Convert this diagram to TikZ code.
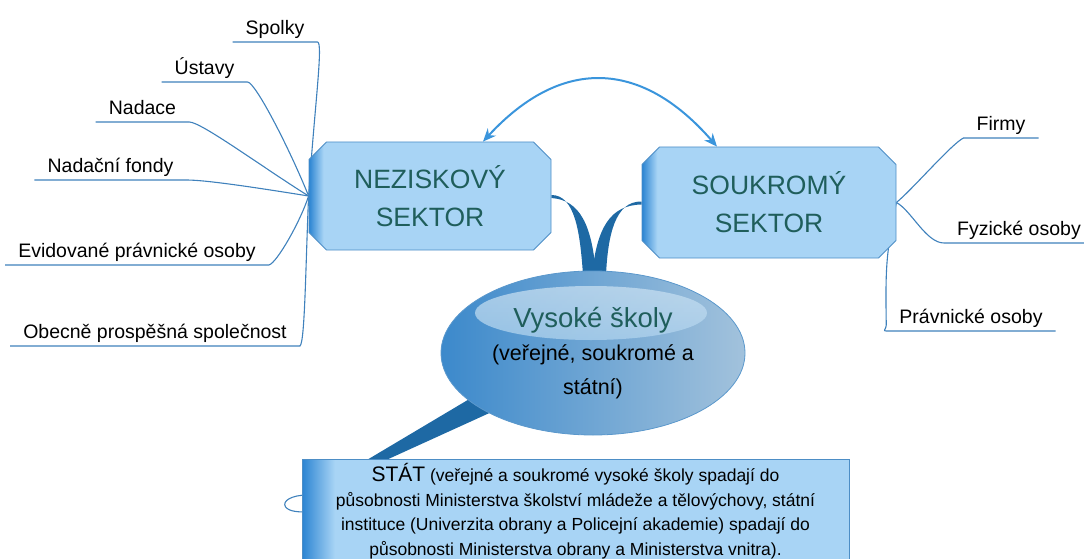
\documentclass[tikz,border=0pt]{standalone}
\usepackage{fontspec}
\setmainfont{Liberation Sans}
\usetikzlibrary{shapes.misc,shapes.geometric,arrows.meta,calc,backgrounds}
\definecolor{boxfill}{HTML}{A8D4F5}
\definecolor{boxline}{HTML}{4D8EC6}
\definecolor{boxdark}{HTML}{2B84D2}
\definecolor{tealtext}{HTML}{1F5E5B}
\definecolor{twigc}{HTML}{3F81BC}
\definecolor{bandc}{HTML}{1E69A4}
\definecolor{linkc}{HTML}{3A95DC}
\definecolor{elldark}{HTML}{3C89CB}
\definecolor{ellmid}{HTML}{78B7E6}
\definecolor{elllight}{HTML}{A2C2DC}
\definecolor{ellline}{HTML}{5B98CC}
\definecolor{hltop}{HTML}{CFE3F2}
\definecolor{hlbot}{HTML}{84BDE8}
\pgfdeclarehorizontalshading{sectorshade}{100bp}{color(0bp)=(boxdark); color(25bp)=(boxdark); color(28bp)=(boxfill); color(100bp)=(boxfill)}
\newcommand{\fsz}[2]{\fontsize{#1}{#2}\selectfont}
\begin{document}
\begin{tikzpicture}[x=1pt,y=-1pt,
    leaf/.style={anchor=south,font=\fsz{19.5}{23},inner xsep=13pt,inner ysep=3.5pt,text depth=4pt},
    twig/.style={draw=twigc,line width=1.1pt},
    band/.style={fill=bandc},
    link/.style={draw=linkc,line width=2pt,{Stealth[length=13pt,width=11pt]}-{Stealth[length=13pt,width=11pt]}},
    sector/.style={chamfered rectangle,chamfered rectangle xsep=14pt,draw=boxline,line width=0.8pt,
        shading=sectorshade,shade,text=tealtext,font=\fsz{26.5}{38},align=center,inner sep=0pt},
    school/.style={ellipse,minimum width=304pt,minimum height=164pt,inner sep=0pt,draw=ellline,line width=0.8pt,
        left color=elldark,middle color=ellmid,right color=elllight,
        path picture={\shade[top color=hltop,bottom color=hlbot,opacity=0.75] ([xshift=-2pt,yshift=40pt]path picture bounding box.center) ellipse [x radius=116pt,y radius=27pt];},
        font=\fsz{21.5}{33.5},align=center}]
    \useasboundingbox (0,0) rectangle (1084,559);
    %% sectors
    \node[sector,minimum width=242pt,minimum height=108pt] (nez) at (430,196) {NEZISKOVÝ\\SEKTOR};
    \node[sector,minimum width=254pt,minimum height=111pt] (souk) at (769,202.5) {SOUKROMÝ\\SEKTOR};
    %% schools
    \node[school] (vs) at (593,353) {{\color{tealtext}\fsz{27.5}{33}Vysoké školy}\\(veřejné, soukromé a\\státní)};
    %% state
    \node[sector,minimum width=547pt,minimum height=130pt] (stat) at (575.5,524) {};
    \node[align=center,font=\fsz{17.5}{24.5}] (stattext) at (575.5,511) {{\fsz{21}{24.5}STÁT} (veřejné a soukromé vysoké školy spadají do\\působnosti Ministerstva školství mládeže a tělovýchovy, státní\\instituce (Univerzita obrany a Policejní akademie) spadají do\\působnosti Ministerstva obrany a Ministerstva vnitra).};
    %% left leaves
    \node[leaf] (spolky) at (275,42) {Spolky};
    \node[leaf] (ustavy) at (204.5,82) {Ústavy};
    \node[leaf] (nadace) at (142.5,122) {Nadace};
    \node[leaf] (fondy) at (110.5,180) {Nadační fondy};
    \node[leaf] (evidovane) at (137,265) {Evidované právnické osoby};
    \node[leaf] (obecne) at (155,346) {Obecně prospěšná společnost};
    %% right leaves
    \node[leaf] (firmy) at (1001,138) {Firmy};
    \node[leaf] (fyzicke) at (1019,243) {Fyzické osoby};
    \node[leaf] (pravnicke) at (971,331) {Právnické osoby};
    \begin{scope}[on background layer]
        %% twigs
        \draw[twig] (spolky.south west) -- (spolky.south east) .. controls +(6,0) and +(6,-90) .. (nez.west);
        \draw[twig] (ustavy.south west) -- (ustavy.south east) .. controls +(8,0) and +(-18,-45) .. (nez.west);
        \draw[twig] (nadace.south west) -- (nadace.south east) .. controls +(12,0) and +(-45,-28) .. (nez.west);
        \draw[twig] (fondy.south west) -- (fondy.south east) .. controls +(20,0) and +(-50,-8) .. (nez.west);
        \draw[twig] (evidovane.south west) -- (evidovane.south east) .. controls +(8,-2) and +(-8,25) .. (nez.west);
        \draw[twig] (obecne.south west) -- (obecne.south east) .. controls +(5,-3) and +(-3,70) .. (nez.west);
        \draw[twig] (souk.east) .. controls +(15,-12) and +(-12,6) .. (firmy.south west) -- (firmy.south east);
        \draw[twig] (souk.east) .. controls +(15,8) and +(-18,0) .. (fyzicke.south west) -- (fyzicke.south east);
        \draw[twig] (souk.east) .. controls +(-10,50) and +(-1,-60) .. ($(pravnicke.south west)+(0,-6)$)
            .. controls +(0,4) and +(-4,0) .. (pravnicke.south west) -- (pravnicke.south east);
        %% thick branches
        \fill[band] ($(nez.east)+(0,-1)$) .. controls (575,195) and (580,232) .. ($(vs.north)+(-10,4)$)
            -- ($(vs.north)+(3,4)$) .. controls (592,225) and (580,200) .. ($(nez.east)+(0,2)$) -- cycle;
        \fill[band] ($(souk.west)+(0,-1)$) .. controls (615,201) and (608,235) .. ($(vs.north)+(13,4)$)
            -- ($(vs.north)+(-1,4)$) .. controls (597,228) and (610,205) .. ($(souk.west)+(0,2)$) -- cycle;
        \fill[band] ($(vs.center)+(-53,4)$) -- ($(vs.center)+(-53,37)$) -- ($(stat.north)+(-195,4)$) -- ($(stat.north)+(-213,4)$) -- cycle;
        \draw[twig] ($(stat.west)+(6,-29)$) .. controls +(-16,0) and +(-4,-6) .. ($(stat.west)+(-16,-17)$)
            .. controls +(4,5) and +(-8,0) .. ($(stat.west)+(6,-12)$);
    \end{scope}
    %% arrow between sectors
    \draw[link] ($(nez.north)+(53,0)$) .. controls (560,58) and (640,58) .. ($(souk.north)+(-52,0)$);
\end{tikzpicture}
\end{document}
